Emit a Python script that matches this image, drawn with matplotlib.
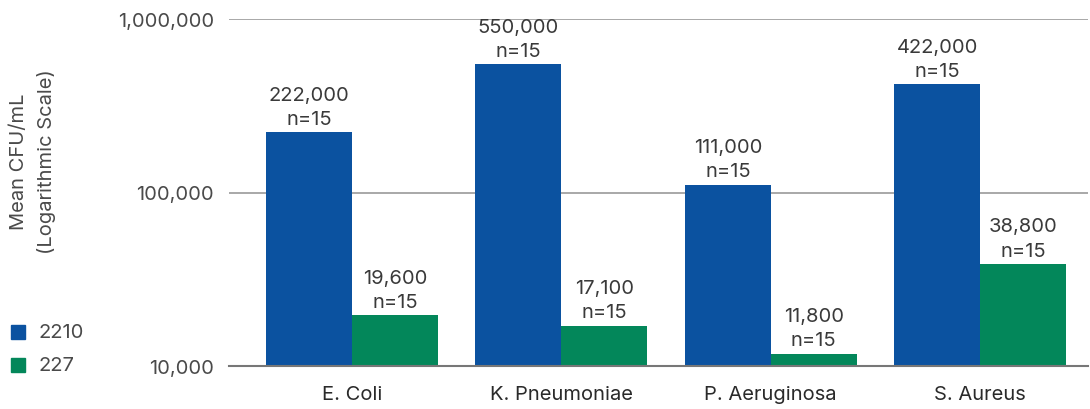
import matplotlib
matplotlib.use("Agg")
import matplotlib.pyplot as plt
import numpy as np
from matplotlib.ticker import FixedLocator, FuncFormatter, NullLocator
from matplotlib.patches import Rectangle

plt.rcParams['font.family'] = ['Inter', 'DejaVu Sans']

categories = ["E. Coli", "K. Pneumoniae", "P. Aeruginosa", "S. Aureus"]
series_names = ["2210", "227"]
values_2210 = [222000, 550000, 111000, 422000]
values_227 = [19600, 17100, 11800, 38800]
sample_sizes = [15, 15, 15, 15]
y_ticks = [10000, 100000, 1000000]

blue = "#0B52A0"
green = "#03875A"
text_color = "#4a4a4a"
fs = 14.5

fig = plt.figure(figsize=(10.9, 4.1), dpi=100)
ax = fig.add_axes([229 / 1090, (410 - 367) / 410, (1088 - 229) / 1090, (367 - 20) / 410])

x = np.arange(len(categories))
w = 0.41
bars_a = ax.bar(x - w / 2, values_2210, width=w, color=blue, zorder=3)
bars_b = ax.bar(x + w / 2, values_227, width=w, color=green, zorder=3)

ax.set_yscale("log")
ax.set_ylim(10000, 1000000)
ax.set_xlim(-0.587, 3.515)

ax.yaxis.set_major_locator(FixedLocator(y_ticks))
ax.yaxis.set_minor_locator(NullLocator())
ax.yaxis.set_major_formatter(FuncFormatter(lambda v, p: f"{int(round(v)):,}"))
ax.grid(axis="y", color="#9a9a9a", linewidth=1.2, zorder=0)
ax.tick_params(axis="y", length=0, pad=11, labelsize=fs, labelcolor=text_color)
ax.tick_params(axis="x", length=0, pad=14, labelsize=fs, labelcolor="#2a2a2a")
ax.set_xticks(x)
ax.set_xticklabels(categories)
for s in ["top", "right", "left"]:
    ax.spines[s].set_visible(False)
ax.spines["bottom"].set_color("#777777")
ax.spines["bottom"].set_linewidth(1.5)
ax.spines["bottom"].set_zorder(4)

for bars, vals in ((bars_a, values_2210), (bars_b, values_227)):
    for b, v, n in zip(bars, vals, sample_sizes):
        ax.annotate(f"{v:,}\nn={n}", (b.get_x() + b.get_width() / 2, v),
                    xytext=(0, 3), textcoords="offset points",
                    ha="center", va="bottom", fontsize=fs, color="#3a3a3a",
                    linespacing=1.45)

fig.text(33 / 1090, 1 - 162 / 410, "Mean CFU/mL\n(Logarithmic Scale)", rotation=90,
         ha="center", va="center", fontsize=fs, color=text_color, linespacing=1.55)

# legend drawn in figure coordinates at lower left
for i, (name, col) in enumerate(zip(series_names, [blue, green])):
    yc = 333 + i * 33
    fig.patches.append(Rectangle((11 / 1090, 1 - (yc + 7) / 410), 14 / 1090, 14 / 410,
                                 transform=fig.transFigure, color=col))
    fig.text(38 / 1090, 1 - yc / 410, name, ha="left", va="center",
             fontsize=fs, color=text_color)

fig.savefig("out.png", dpi=100)
